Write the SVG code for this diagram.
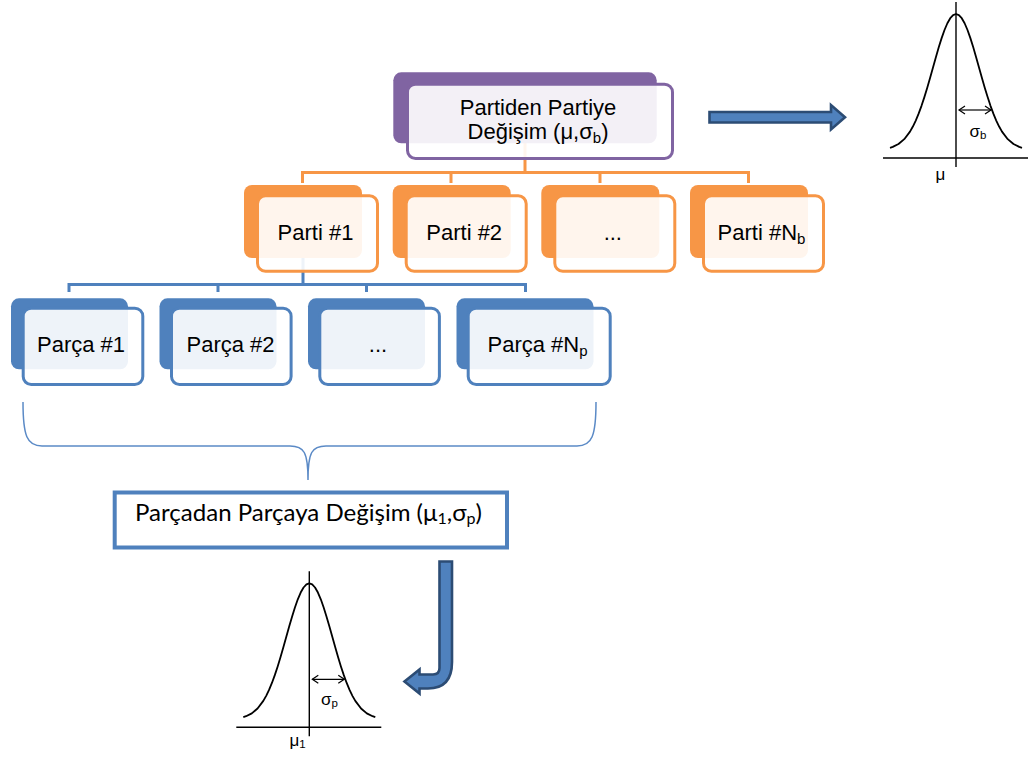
<svg xmlns="http://www.w3.org/2000/svg" width="1030" height="758" viewBox="0 0 1030 758">
<style>
.txt{font-family:"Liberation Sans",Arial,sans-serif;font-size:22px;fill:#000}
.sub{font-size:15px}
.bk-p{fill:#8064a2}
.fr-p{fill:#fff;fill-opacity:.9;stroke:#8064a2;stroke-width:3}
.bk-o{fill:#f79646}
.fr-o{fill:#fff;fill-opacity:.9;stroke:#f79646;stroke-width:3}
.bk-b{fill:#4f81bd}
.fr-b{fill:#fff;fill-opacity:.9;stroke:#4f81bd;stroke-width:3}
.con-o{fill:none;stroke:#f79646;stroke-width:3}
.con-b{fill:none;stroke:#4f81bd;stroke-width:3}
.brace{fill:none;stroke:#5b8ac6;stroke-width:1.5}
.block{fill:#4f81bd;stroke:#2c4c74;stroke-width:2.6;stroke-linejoin:miter}
.curve{fill:none;stroke:#000;stroke-width:1.8;stroke-linejoin:round}
.axis{stroke:#000;stroke-width:1.4}
.sig{stroke:#000;stroke-width:1.2}
.lbl{font-family:"Liberation Sans",Arial,sans-serif;font-size:17px;fill:#000}
.lsub{font-size:11.5px}
.sum{font-family:Lato,"Open Sans",sans-serif;font-size:24px;fill:#000}
.ssub{font-size:16px}
</style>
<defs>
<marker id="oh" markerWidth="10" markerHeight="10" refX="7" refY="5" orient="auto-start-reverse" markerUnits="userSpaceOnUse">
<path d="M1,1 L7,5 L1,9" fill="none" stroke="#000" stroke-width="1.2"/>
</marker>
<g id="bell">
<polyline class="curve" points="-66,133.78 -63.25,132.9 -57.5,130.03 -51.75,125.17 -46,117.6 -43.125,112.55 -40.25,106.58 -37.375,99.67 -34.5,91.84 -31.625,83.11 -28.75,73.74 -25.875,63.77 -23,53.52 -20.125,43.25 -17.25,33.35 -14.375,24.13 -11.5,15.98 -8.625,9.23 -5.75,4.19 -2.875,1.06 0,0 2.875,1.06 5.75,4.19 8.625,9.23 11.5,15.98 14.375,24.13 17.25,33.35 20.125,43.25 23,53.52 25.875,63.77 28.75,73.74 31.625,83.11 34.5,91.84 37.375,99.67 40.25,106.58 43.125,112.55 46,117.6 51.75,125.17 57.5,130.03 63.25,132.9 66,133.78"/>
<line class="axis" x1="-73" y1="144" x2="72" y2="144"/>
<line class="axis" x1="0" y1="-12" x2="0" y2="153"/>
<line class="sig" x1="3" y1="96" x2="35" y2="96" marker-start="url(#oh)" marker-end="url(#oh)"/>
</g>
</defs>

<g id="connectors">
<path class="con-o" d="M525,143 V172.5 M302.5,183 V172.5 H748.5 V183 M451,172.5 V183 M600,172.5 V183"/>
<path class="con-b" d="M303,258 V284.5 M69,292 V284.5 H525.5 V292 M218,284.5 V292 M366.5,284.5 V292"/>
<path class="brace" d="M23,402 C23,436 27,446 42,446 L290,446 C304,446 308,452 308,480 C308,452 312,446 326,446 L577,446 C592,446 596,436 596,402"/>
<path id="arrow-right" class="block" d="M709.5,112 H831 V105 L845,117.3 L831,129.5 V122.5 H709.5 Z"/>
<path id="arrow-bent" class="block" d="M439.5,561.5 H452 V662 Q452,688.5 428,688.5 H419.5 V693.5 L404.5,681.5 L419.5,669.5 V674.5 H433 Q439.5,674.5 439.5,668 Z"/>
</g>

<g id="node-top">
<rect class="bk-p" x="393.3" y="72.3" width="263.4" height="71" rx="8"/>
<rect class="fr-p" x="407.5" y="84.2" width="265" height="74.3" rx="8"/>
<text class="txt" x="538" y="115" text-anchor="middle">Partiden Partiye</text>
<text class="txt" x="538" y="138.5" text-anchor="middle">Değişim (μ,σ<tspan class="sub" dy="4">b</tspan><tspan dy="-4">)</tspan></text>
</g>

<g id="node-parti1">
<rect class="bk-o" x="244" y="185" width="118" height="73" rx="8"/>
<rect class="fr-o" x="257.5" y="195.8" width="120" height="75.4" rx="8"/>
<text class="txt" x="315.5" y="240" text-anchor="middle">Parti #1</text>
</g>
<g id="node-parti2">
<rect class="bk-o" x="392.7" y="185" width="118" height="73" rx="8"/>
<rect class="fr-o" x="406.2" y="195.8" width="120" height="75.4" rx="8"/>
<text class="txt" x="464.2" y="240" text-anchor="middle">Parti #2</text>
</g>
<g id="node-parti3">
<rect class="bk-o" x="541.3" y="185" width="118" height="73" rx="8"/>
<rect class="fr-o" x="554.8" y="195.8" width="120" height="75.4" rx="8"/>
<text class="txt" x="612.8" y="240" text-anchor="middle">...</text>
</g>
<g id="node-partiN">
<rect class="bk-o" x="690" y="185" width="118" height="73" rx="8"/>
<rect class="fr-o" x="703.5" y="195.8" width="120" height="75.4" rx="8"/>
<text class="txt" x="761.5" y="240" text-anchor="middle">Parti #N<tspan class="sub" dy="4">b</tspan></text>
</g>

<g id="node-parca1">
<rect class="bk-b" x="11" y="298.3" width="117" height="71" rx="8"/>
<rect class="fr-b" x="23.2" y="308.2" width="119.6" height="76.3" rx="8"/>
<text class="txt" x="81" y="352" text-anchor="middle">Parça #1</text>
</g>
<g id="node-parca2">
<rect class="bk-b" x="159.5" y="298.3" width="117" height="71" rx="8"/>
<rect class="fr-b" x="171.5" y="308.2" width="119.6" height="76.3" rx="8"/>
<text class="txt" x="230.5" y="352" text-anchor="middle">Parça #2</text>
</g>
<g id="node-parca3">
<rect class="bk-b" x="308" y="298.3" width="117" height="71" rx="8"/>
<rect class="fr-b" x="319.8" y="308.2" width="119.6" height="76.3" rx="8"/>
<text class="txt" x="378" y="352" text-anchor="middle">...</text>
</g>
<g id="node-parcaN">
<rect class="bk-b" x="456.5" y="298.3" width="137" height="71" rx="8"/>
<rect class="fr-b" x="468.2" y="308.2" width="142" height="76.3" rx="8"/>
<text class="txt" x="537.5" y="352" text-anchor="middle">Parça #N<tspan class="sub" dy="4">p</tspan></text>
</g>

<g id="node-summary">
<rect x="114.7" y="492.5" width="392.3" height="55" fill="#fff" stroke="#4f81bd" stroke-width="4"/>
<text class="sum" x="135" y="521" textLength="347" lengthAdjust="spacingAndGlyphs">Parçadan Parçaya Değişim (μ<tspan class="ssub" dy="3">1</tspan><tspan dy="-3">,σ</tspan><tspan class="ssub" dy="3">p</tspan><tspan dy="-3">)</tspan></text>
</g>

<g id="bell-batch">
<use href="#bell" transform="translate(956,14)"/>
<text class="lbl" x="969.5" y="137">σ<tspan class="lsub" dy="2">b</tspan></text>
<text class="lbl" x="935.5" y="180">μ</text>
</g>
<g id="bell-part">
<use href="#bell" transform="translate(309.3,583.3)"/>
<text class="lbl" x="321" y="705">σ<tspan class="lsub" dy="2">p</tspan></text>
<text class="lbl" x="289.5" y="746">μ<tspan class="lsub" dy="2">1</tspan></text>
</g>
</svg>
